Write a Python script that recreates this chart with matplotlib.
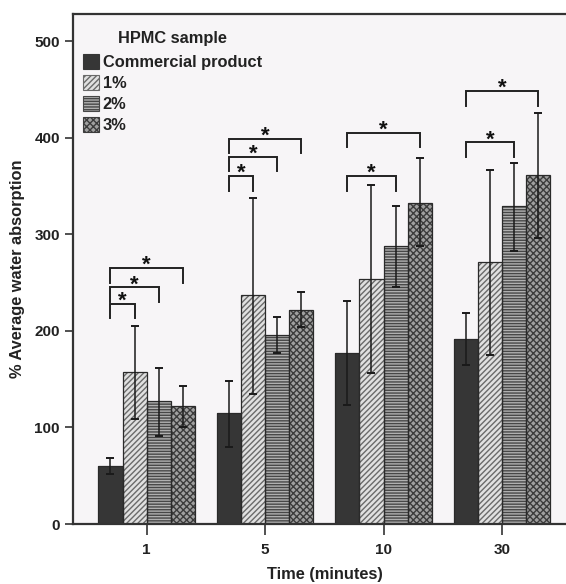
import matplotlib
matplotlib.use("Agg")
import matplotlib.pyplot as plt
import numpy as np
from matplotlib.patches import Patch

plt.rcParams['font.family'] = ['Liberation Sans', 'DejaVu Sans']
plt.rcParams['font.weight'] = 'bold'
plt.rcParams['hatch.linewidth'] = 1.0

times = ["1", "5", "10", "30"]
series = ["Commercial product", "1%", "2%", "3%"]

mean_commercial = [60, 115, 177, 192]
mean_1 = [157, 237, 254, 271]
mean_2 = [127, 196, 288, 329]
mean_3 = [122, 222, 332, 361]

low_commercial = [52, 80, 123, 165]
low_1 = [109, 135, 156, 175]
low_2 = [91, 177, 245, 283]
low_3 = [100, 204, 288, 296]

high_commercial = [68, 148, 231, 218]
high_1 = [205, 338, 351, 367]
high_2 = [162, 214, 329, 374]
high_3 = [143, 240, 379, 426]

# significance brackets: (group, bar_a, bar_b, top_y)
bracket_group = [0, 0, 0, 1, 1, 1, 2, 2, 3, 3]
bracket_a = [0, 0, 0, 0, 0, 0, 0, 0, 0, 0]
bracket_b = [1, 2, 3, 1, 2, 3, 2, 3, 2, 3]
bracket_top = [228, 245, 265, 360, 380, 399, 360, 405, 395, 448]

means = [mean_commercial, mean_1, mean_2, mean_3]
lows = [low_commercial, low_1, low_2, low_3]
highs = [high_commercial, high_1, high_2, high_3]

faces = ['#363636', '#e0e0e0', '#b0b0b0', '#a0a0a0']
hatch_cols = ['#363636', '#6a6a6a', '#474747', '#3c3c3c']
hatches = [None, '//////', '------', 'xxxxx']
outline = '#2a2a2a'

fig = plt.figure(figsize=(5.66, 5.84), dpi=100)
ax = fig.add_axes([73/566, 1 - 524/584, 1 - 73/566, (524 - 14)/584])
ax.set_facecolor('#f7f5f7')

x = np.arange(len(times))
w = 0.204
offsets = (np.arange(4) - 1.5) * w

for i in range(4):
    m = np.array(means[i])
    lo = m - np.array(lows[i])
    hi = np.array(highs[i]) - m
    ax.bar(x + offsets[i], m, width=w, color=faces[i], edgecolor=hatch_cols[i],
           hatch=hatches[i], linewidth=0, zorder=2)
    ax.bar(x + offsets[i], m, width=w, fill=False, edgecolor=outline,
           linewidth=0.9, zorder=2.5)
    ax.errorbar(x + offsets[i], m, yerr=[lo, hi], fmt='none', ecolor='#1a1a1a',
                elinewidth=1.1, capsize=3, capthick=1.4, zorder=3)

leg_len = 15
for g, a, b, top in zip(bracket_group, bracket_a, bracket_b, bracket_top):
    xa = g + offsets[a]
    xb = g + offsets[b]
    ax.plot([xa, xa, xb, xb], [top - leg_len, top, top, top - leg_len],
            color='#222222', lw=1.4, zorder=4, solid_joinstyle='miter')
    ax.text((xa + xb) / 2, top - 3, '*', ha='center', va='baseline',
            fontsize=16, fontweight='bold', color='#111111', zorder=5)

ax.set_xlim(-0.622, 3.541)
ax.set_ylim(0, 528)
ax.set_xticks(x)
ax.set_xticklabels(times)
ax.set_yticks([0, 100, 200, 300, 400, 500])
ax.tick_params(axis='both', labelsize=11, length=6, width=1.2, color='#333333')
ax.tick_params(axis='x', length=8, pad=6)
for lab in ax.get_xticklabels() + ax.get_yticklabels():
    lab.set_fontweight('bold')
    lab.set_color('#222222')

for s in ['left', 'bottom', 'top']:
    ax.spines[s].set_linewidth(1.6)
    ax.spines[s].set_color('#333333')
ax.spines['right'].set_visible(False)

ax.set_xlabel('Time (minutes)', fontsize=11.8, fontweight='bold', color='#222222')
ax.xaxis.set_label_coords((325 - 73) / 493, -(567 - 524) / 510)
ax.set_ylabel('% Average water absorption', fontsize=11.8, fontweight='bold', color='#222222')
ax.yaxis.set_label_coords(-(73 - 25) / 493, 0.5)

handles = [Patch(facecolor=faces[i], edgecolor=hatch_cols[i], hatch=hatches[i], linewidth=0.8)
           for i in range(4)]
leg = ax.legend(handles, series, loc='upper left',
                bbox_to_anchor=((83 - 73) / 493, 1 - (54.5 - 14) / 510),
                frameon=False, fontsize=11.8,
                handlelength=1.0, handleheight=1.0, handletextpad=0.2,
                labelspacing=0.3, borderaxespad=0, borderpad=0)
for t in leg.get_texts():
    t.set_fontweight('bold')
    t.set_color('#222222')
ax.text((172 - 73) / 493, 1 - (43 - 14) / 510, 'HPMC sample', transform=ax.transAxes,
        ha='center', va='baseline', fontsize=11.8, fontweight='bold', color='#222222')

fig.savefig('out.png', dpi=100)
